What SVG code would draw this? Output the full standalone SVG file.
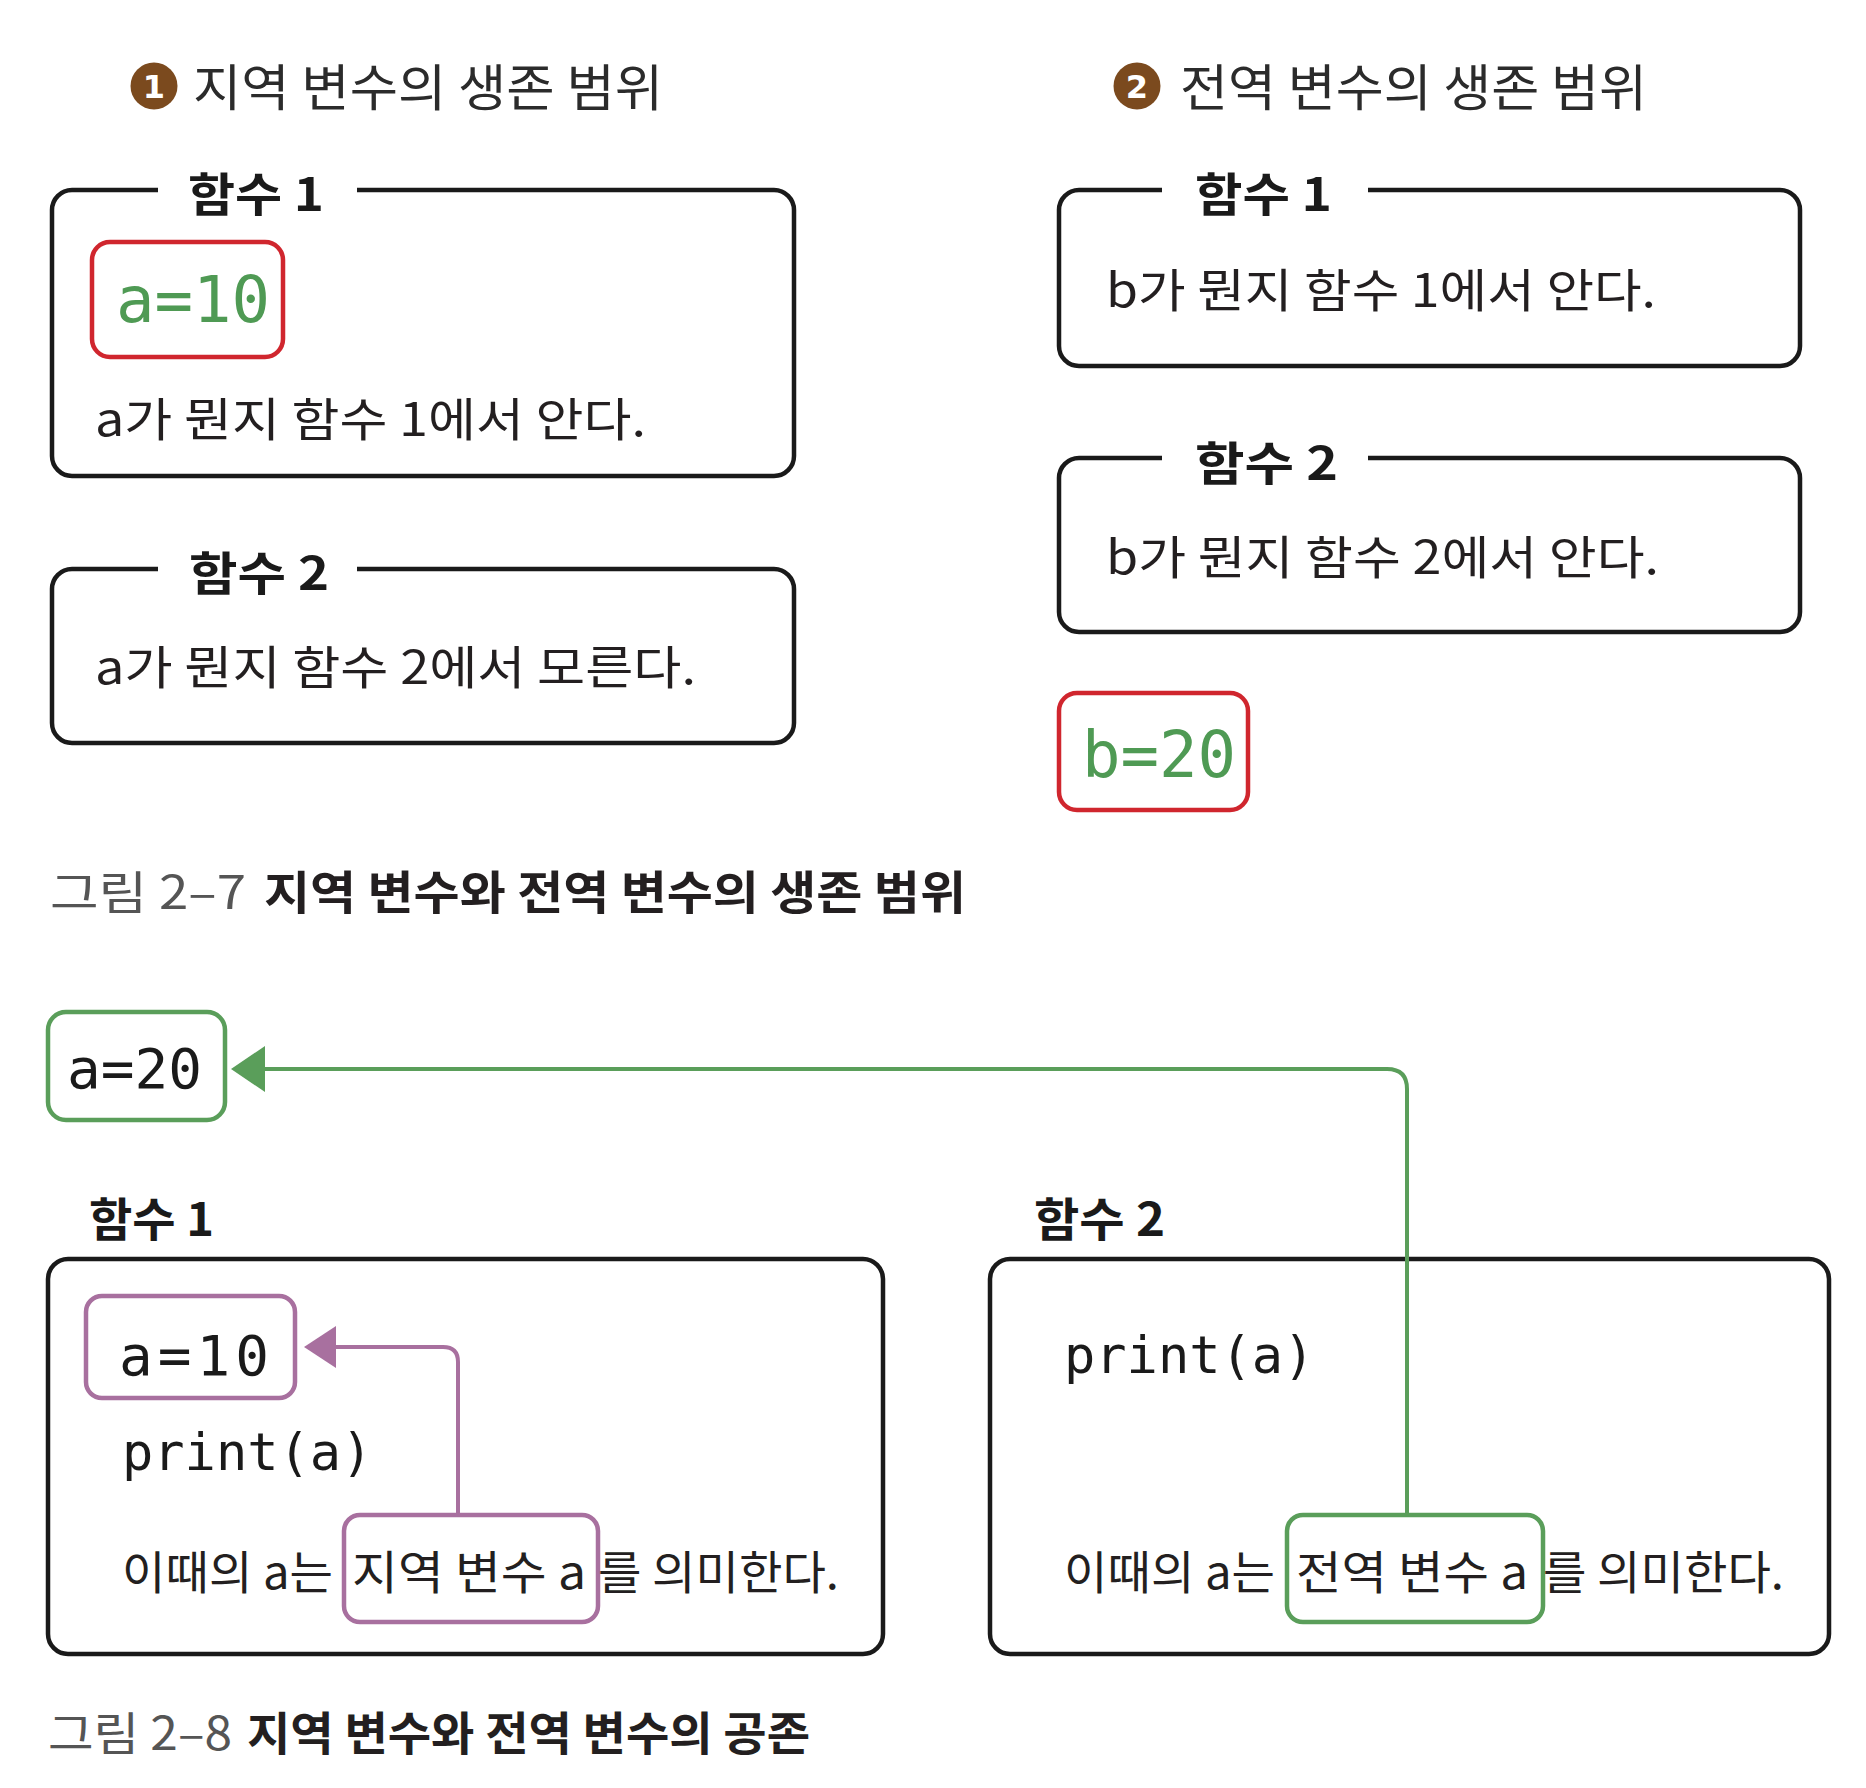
<svg xmlns="http://www.w3.org/2000/svg" width="1866" height="1788" viewBox="0 0 1866 1788">
<style>
.kr{font-family:"Noto Sans CJK KR","Noto Sans",sans-serif;fill:#231f20}
.title{font-size:50px;fill:#2b2b2b}
.lbl{font-size:46px;font-weight:bold;fill:#1a1a1a}
.body{font-size:46px}
.capg{font-size:46px;fill:#555555}
.capb{font-size:46px;font-weight:bold;fill:#231f20}
.mono{font-family:"DejaVu Sans Mono","Liberation Mono",monospace}
.gtxt{fill:#4f9a54}
.btxt{fill:#1a1a1a}
.frame{fill:#ffffff;stroke:#1a1a1a;stroke-width:4.5}
.red{fill:none;stroke:#d0262e;stroke-width:4.5}
.grn{fill:none;stroke:#5a9e5a;stroke-width:4.5}
.pur{fill:none;stroke:#a8709f;stroke-width:4.5}
.num{font-family:"DejaVu Sans",sans-serif;font-size:32px;font-weight:bold;fill:#ffffff}
.badge{fill:#7b4a1e}
</style>
<defs>
<marker id="arrG" markerUnits="userSpaceOnUse" markerWidth="34" markerHeight="46" refX="30" refY="23" orient="auto">
<path d="M0,0 L34,23 L0,46 Z" fill="#5a9e5a"/>
</marker>
<marker id="arrP" markerUnits="userSpaceOnUse" markerWidth="32" markerHeight="42" refX="28" refY="21" orient="auto">
<path d="M0,0 L32,21 L0,42 Z" fill="#a8709f"/>
</marker>
</defs>
<rect width="1866" height="1788" fill="#ffffff"/>

<g id="title1">
<circle class="badge" cx="154" cy="86" r="23.5"/>
<text class="num" x="154" y="98" text-anchor="middle">1</text>
<text class="kr title" x="193" y="106" textLength="470" lengthAdjust="spacingAndGlyphs">지역 변수의 생존 범위</text>
</g>
<g id="title2">
<circle class="badge" cx="1137" cy="86" r="23.5"/>
<text class="num" x="1137" y="98" text-anchor="middle">2</text>
<text class="kr title" x="1180" y="106" textLength="467" lengthAdjust="spacingAndGlyphs">전역 변수의 생존 범위</text>
</g>

<g id="local-func1">
<path class="frame" style="fill:none" d="M158 190 H72 A20 20 0 0 0 52 210 V456 A20 20 0 0 0 72 476 H774 A20 20 0 0 0 794 456 V210 A20 20 0 0 0 774 190 H357"/>
<text class="kr lbl" x="188" y="211" textLength="136" lengthAdjust="spacingAndGlyphs">함수 1</text>
<rect class="red" x="92" y="242" width="191" height="115" rx="18"/>
<text class="mono gtxt" x="116" y="322" font-size="64">a=10</text>
<text class="kr body" x="95" y="436" textLength="551" lengthAdjust="spacingAndGlyphs">a가 뭔지 함수 1에서 안다.</text>
</g>

<g id="local-func2">
<path class="frame" style="fill:none" d="M158 569 H72 A20 20 0 0 0 52 589 V723 A20 20 0 0 0 72 743 H774 A20 20 0 0 0 794 723 V589 A20 20 0 0 0 774 569 H357"/>
<text class="kr lbl" x="189" y="590" textLength="140" lengthAdjust="spacingAndGlyphs">함수 2</text>
<text class="kr body" x="95" y="684" textLength="601" lengthAdjust="spacingAndGlyphs">a가 뭔지 함수 2에서 모른다.</text>
</g>

<g id="global-func1">
<path class="frame" style="fill:none" d="M1162 190 H1079 A20 20 0 0 0 1059 210 V346 A20 20 0 0 0 1079 366 H1780 A20 20 0 0 0 1800 346 V210 A20 20 0 0 0 1780 190 H1368"/>
<text class="kr lbl" x="1195" y="211" textLength="137" lengthAdjust="spacingAndGlyphs">함수 1</text>
<text class="kr body" x="1106" y="307" textLength="550" lengthAdjust="spacingAndGlyphs">b가 뭔지 함수 1에서 안다.</text>
</g>

<g id="global-func2">
<path class="frame" style="fill:none" d="M1162 458 H1079 A20 20 0 0 0 1059 478 V612 A20 20 0 0 0 1079 632 H1780 A20 20 0 0 0 1800 612 V478 A20 20 0 0 0 1780 458 H1368"/>
<text class="kr lbl" x="1195" y="480" textLength="143" lengthAdjust="spacingAndGlyphs">함수 2</text>
<text class="kr body" x="1106" y="574" textLength="553" lengthAdjust="spacingAndGlyphs">b가 뭔지 함수 2에서 안다.</text>
</g>

<g id="global-b">
<rect class="red" x="1059" y="693" width="189" height="117" rx="18"/>
<text class="mono gtxt" x="1082" y="777" font-size="64">b=20</text>
</g>

<g id="caption1">
<text class="kr capg" x="50" y="909" textLength="196" lengthAdjust="spacingAndGlyphs">그림 2–7</text>
<text class="kr capb" x="264" y="909" textLength="702" lengthAdjust="spacingAndGlyphs">지역 변수와 전역 변수의 생존 범위</text>
</g>

<g id="global-a">
<rect class="grn" x="48" y="1012" width="177" height="108" rx="18"/>
<text class="mono btxt" x="67" y="1088" font-size="56">a=20</text>
</g>

<g id="func1">
<text class="kr lbl" x="89" y="1236" textLength="125" lengthAdjust="spacingAndGlyphs">함수 1</text>
<rect class="frame" x="48" y="1259" width="835" height="395" rx="20"/>
<rect class="pur" x="86" y="1296" width="209" height="102" rx="16"/>
<text class="mono btxt" x="119" y="1375" font-size="56" letter-spacing="5">a=10</text>
<text class="mono btxt" x="122" y="1470" font-size="52">print(a)</text>
<rect class="pur" x="344" y="1515" width="254" height="107" rx="16"/>
<text class="kr body" x="122" y="1589" textLength="211" lengthAdjust="spacingAndGlyphs">이때의 a는</text>
<text class="kr body" x="352" y="1589" textLength="234" lengthAdjust="spacingAndGlyphs">지역 변수 a</text>
<text class="kr body" x="598" y="1589" textLength="241" lengthAdjust="spacingAndGlyphs">를 의미한다.</text>
</g>

<g id="func2">
<text class="kr lbl" x="1034" y="1236" textLength="131" lengthAdjust="spacingAndGlyphs">함수 2</text>
<rect class="frame" x="990" y="1259" width="839" height="395" rx="20"/>
<text class="mono btxt" x="1064" y="1373" font-size="52">print(a)</text>
<rect class="grn" x="1287" y="1515" width="256" height="107" rx="16"/>
<text class="kr body" x="1064" y="1589" textLength="211" lengthAdjust="spacingAndGlyphs">이때의 a는</text>
<text class="kr body" x="1296" y="1589" textLength="232" lengthAdjust="spacingAndGlyphs">전역 변수 a</text>
<text class="kr body" x="1543" y="1589" textLength="241" lengthAdjust="spacingAndGlyphs">를 의미한다.</text>
</g>

<g id="connectors">
<path class="grn" style="stroke-width:4" d="M1407 1515 V1089 Q1407 1069 1387 1069 H235" marker-end="url(#arrG)"/>
<path class="pur" style="stroke-width:4" d="M458 1515 V1362 Q458 1347 443 1347 H308" marker-end="url(#arrP)"/>
</g>

<g id="caption2">
<text class="kr capg" x="48" y="1750" textLength="184" lengthAdjust="spacingAndGlyphs">그림 2–8</text>
<text class="kr capb" x="247" y="1750" textLength="563" lengthAdjust="spacingAndGlyphs">지역 변수와 전역 변수의 공존</text>
</g>
</svg>
